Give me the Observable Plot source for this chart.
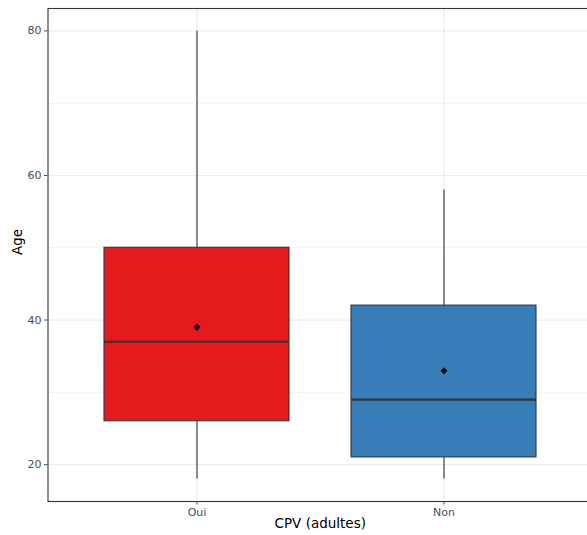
<!DOCTYPE html>
<html>
<head>
<meta charset="utf-8">
<script src="https://cdn.jsdelivr.net/npm/d3@7"></script>
<script src="https://cdn.jsdelivr.net/npm/@observablehq/plot@0.6"></script>
<style>
  html, body { margin: 0; padding: 0; background: white; overflow: hidden; }
  #chart svg { max-width: none !important; }
</style>
</head>
<body>
<div id="chart"></div>
<script>
const categories = ["Oui", "Non"];
const whiskerLow = [18, 18];
const q1 = [26, 21];
const median = [37, 29];
const q3 = [50, 42];
const whiskerHigh = [80, 58];
const mean = [39, 33];
const colors = ["#E41A1C", "#377EB8"];
const yTicks = [20, 40, 60, 80];
const yMinor = [30, 50, 70];

const data = categories.map((c, i) => ({
  cat: c, lo: whiskerLow[i], q1: q1[i], med: median[i], q3: q3[i], hi: whiskerHigh[i], mean: mean[i]
}));

const diamond = {
  draw(context, size) {
    const r = Math.sqrt(size / 2);
    context.moveTo(0, -r);
    context.lineTo(r, 0);
    context.lineTo(0, r);
    context.lineTo(-r, 0);
    context.closePath();
  }
};

const chart = Plot.plot({
  width: 592,
  height: 535,
  marginLeft: 47.5,
  marginRight: 0,
  marginTop: 8,
  marginBottom: 34,
  style: { fontFamily: "DejaVu Sans", background: "white", maxWidth: "none" },
  x: { type: "band", domain: categories, paddingInner: 0.25, paddingOuter: 0.225, align: 0.5, label: null },
  y: { domain: [14.9, 83.1], label: null },
  color: { domain: categories, range: colors },
  marks: [
    Plot.ruleY(yMinor, { stroke: "#EBEBEB", strokeWidth: 0.7 }),
    Plot.ruleY(yTicks, { stroke: "#EBEBEB", strokeWidth: 1.2 }),
    Plot.ruleX(categories, { x: d => d, stroke: "#EBEBEB", strokeWidth: 1.2 }),
    Plot.ruleX(data, { x: "cat", y1: "lo", y2: "q1", stroke: "#333333", strokeWidth: 1.1 }),
    Plot.ruleX(data, { x: "cat", y1: "q3", y2: "hi", stroke: "#333333", strokeWidth: 1.1 }),
    Plot.barY(data, { x: "cat", y1: "q1", y2: "q3", fill: "cat", stroke: "#333333", strokeWidth: 1.1 }),
    Plot.tickY(data, { x: "cat", y: "med", stroke: "#333333", strokeWidth: 2.2 }),
    Plot.dot(data, { x: "cat", y: "mean", symbol: diamond, r: 2.8, fill: "black", stroke: "none" }),
    Plot.frame({ stroke: "#333333", strokeWidth: 1.1 }),
    Plot.axisY(yTicks, { tickSize: 3.5, tickPadding: 3, fontSize: 11, color: "#4D4D4D", label: null }),
    Plot.axisX(categories, { tickSize: 3.5, tickPadding: 3, fontSize: 11, color: "#4D4D4D", label: null }),
    Plot.text(["CPV (adultes)"], { frameAnchor: "bottom", dy: 26, fontSize: 13.5, fill: "black" }),
    Plot.text(["Age"], { frameAnchor: "left", dx: -30.5, rotate: -90, fontSize: 13.5, fill: "black" })
  ]
});

document.getElementById("chart").appendChild(chart);
</script>
</body>
</html>
